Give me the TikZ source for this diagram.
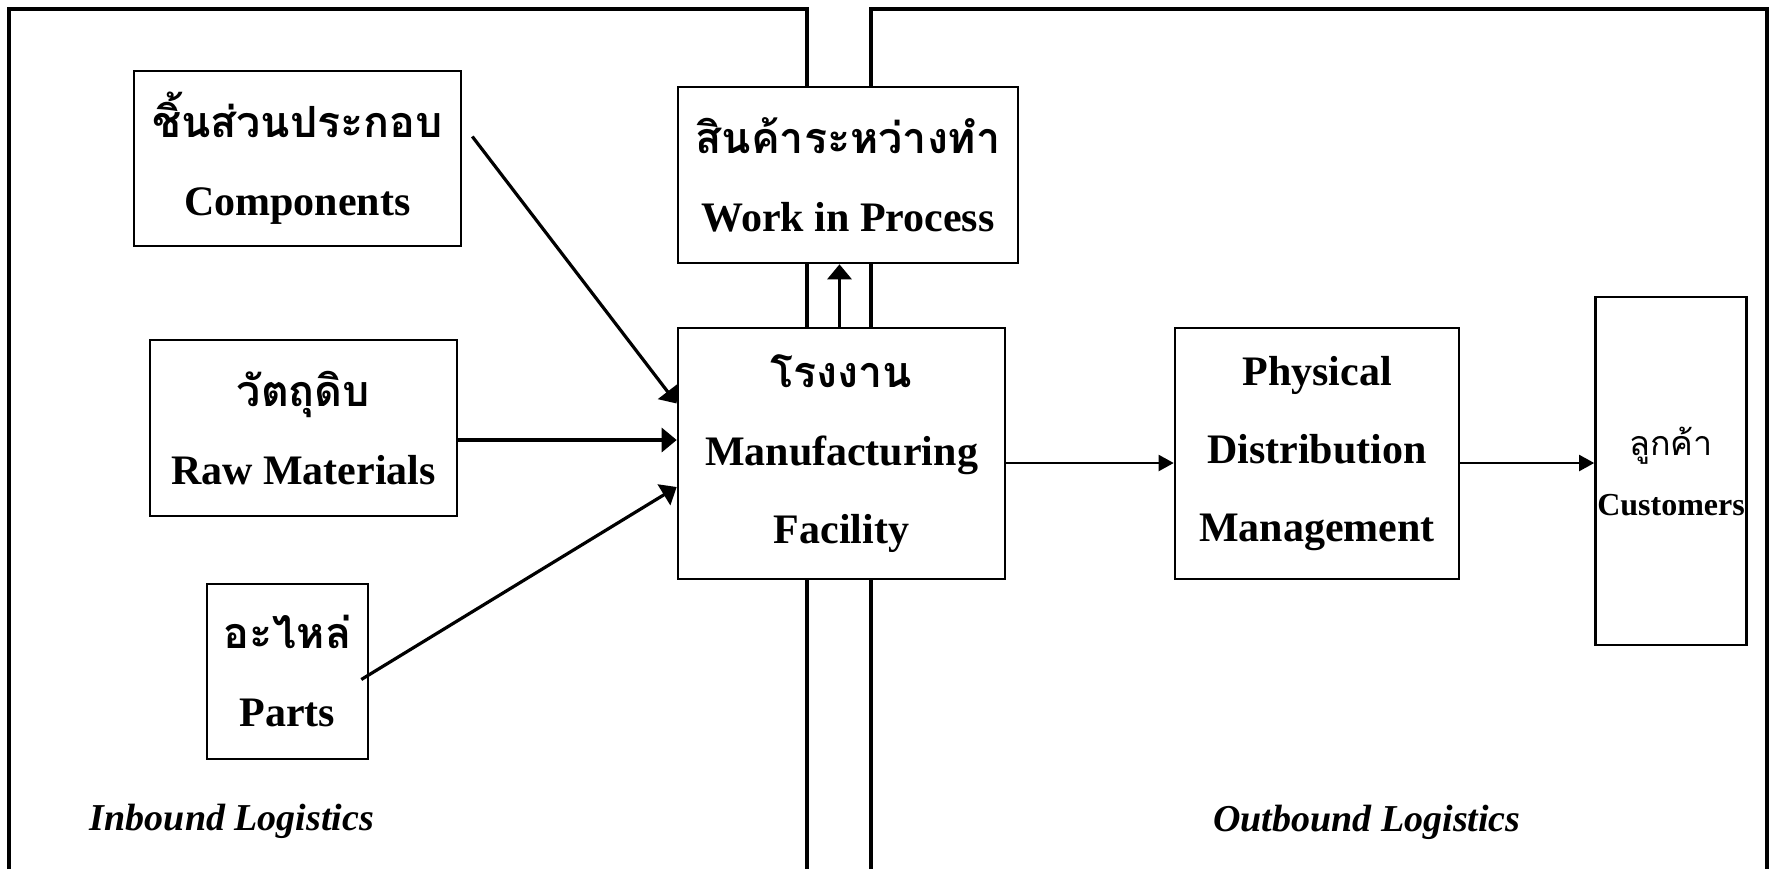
\documentclass[tikz,border=0pt]{standalone}
\usepackage{fontspec}
\setmainfont{Liberation Serif}
\newfontfamily\thaifont[Script=Thai]{Loma}
\usetikzlibrary{arrows.meta}

\newcommand{\thai}[1]{{\thaifont\fontsize{21.5}{39}\selectfont #1}}

\tikzset{
  box/.style={draw, fill=white, line width=1.3pt, align=center, inner sep=0pt,
    font=\fontsize{21}{39}\selectfont\bfseries},
  frame/.style={line width=2pt},
  feed/.style={-{Triangle[length=7.5pt,width=12pt]}, line width=1.6pt},
  ship/.style={-{Triangle[length=7.5pt,width=8pt]}, line width=1pt},
  area/.style={font=\fontsize{19}{23}\selectfont\bfseries\itshape}
}

\begin{document}
\begin{tikzpicture}[x=0.5pt, y=-0.5pt]
    \useasboundingbox (0,0) rectangle (1771,869);

    % the two areas, open at the bottom
    \draw[frame] (9,869) -- (9,9) -- (807,9) -- (807,869);
    \draw[frame] (871,869) -- (871,9) -- (1767,9) -- (1767,869);

    \node[box, minimum width=163.5pt, minimum height=87.5pt] (comp) at (297.5,158.5)
      {\thai{ชิ้นส่วนประกอบ}\\Components};
    \node[box, minimum width=153.5pt, minimum height=88pt] (raw) at (303.5,428)
      {\thai{วัตถุดิบ}\\Raw Materials};
    \node[box, minimum width=80.5pt, minimum height=87.5pt] (parts) at (287.5,671.5)
      {\thai{อะไหล่}\\Parts};

    \node[box, minimum width=170pt, minimum height=88pt] (wip) at (848,175)
      {\thai{สินค้าระหว่างทำ}\\Work in Process};
    \node[box, minimum width=163.5pt, minimum height=125.5pt] (mfg) at (841.5,453.5)
      {\thai{โรงงาน}\\Manufacturing\\Facility};

    \node[box, minimum width=142pt, minimum height=125.5pt] (pdm) at (1317,453.5)
      {Physical\\Distribution\\Management};
    \node[box, minimum width=75.5pt, minimum height=174pt,
      font=\fontsize{16}{30}\selectfont\bfseries] (cust) at (1671,471)
      {{\thaifont\mdseries\fontsize{17}{30}\selectfont ลูกค้า}\\Customers};

    \node[area] (inbound) at (232,821) {Inbound Logistics};
    \node[area] (outbound) at (1367,822) {Outbound Logistics};

    \draw[feed] ([xshift=5pt, yshift=11pt]comp.east) -- ([yshift=25pt]mfg.west);
    \draw[feed] ([yshift=-6pt]raw.east) -- ([yshift=6.75pt]mfg.west);
    \draw[feed] ([xshift=-4pt, yshift=-4pt]parts.east) -- ([yshift=-16.75pt]mfg.west);
    \draw[feed] ([xshift=-1pt]mfg.north) -- ([xshift=-1pt]mfg.north |- wip.south);

    \draw[ship] ([yshift=-4.75pt]mfg.east) -- ([yshift=-4.75pt]mfg.east -| pdm.west);
    \draw[ship] ([yshift=-4.75pt]pdm.east) -- ([yshift=-4.75pt]pdm.east -| cust.west);
\end{tikzpicture}
\end{document}
